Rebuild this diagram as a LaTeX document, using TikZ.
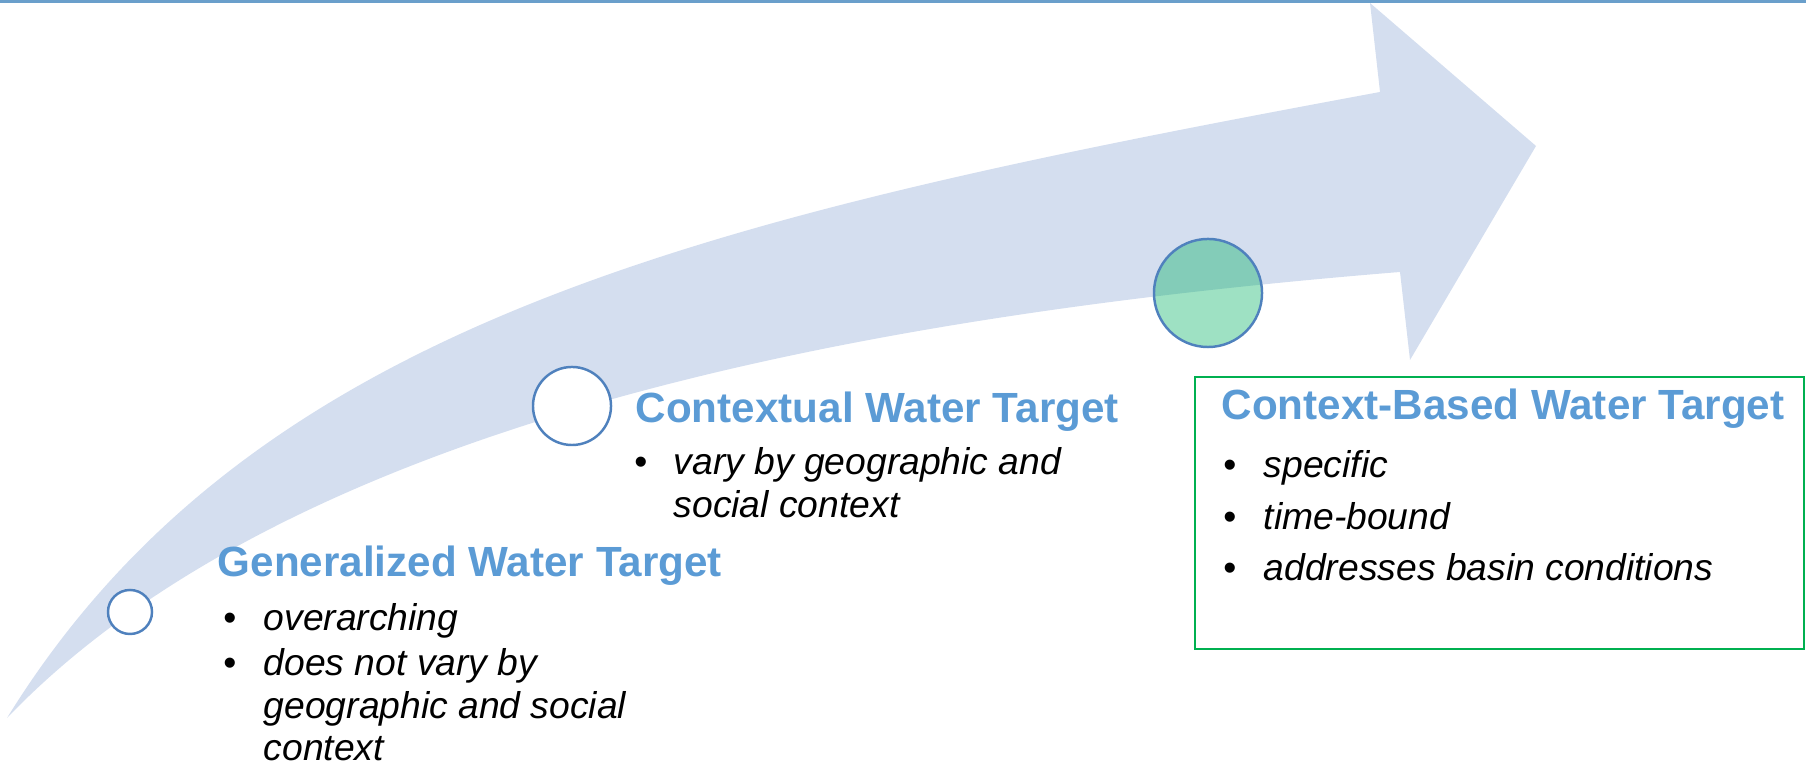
\documentclass[tikz,border=0pt]{standalone}
\usepackage{fontspec}
\setmainfont{Liberation Sans}
\usepackage{xcolor}
\usepackage{tikz}
\definecolor{WTLine}{HTML}{6A9FCB}
\definecolor{WTArrow}{HTML}{D4DEEF}
\definecolor{WTRing}{HTML}{4F81BD}
\definecolor{WTHead}{HTML}{5B9BD5}
\definecolor{WTGreen}{HTML}{00B060}
\definecolor{WTFrame}{HTML}{00B050}

\begin{document}
\begin{tikzpicture}[x=0.01cm,y=-0.01cm,
  heading/.style={anchor=base west,inner sep=0pt,text=WTHead,font=\fontsize{12}{14}\selectfont\bfseries},
  itemtext/.style={anchor=base west,inner sep=0pt,font=\fontsize{10.6}{12}\selectfont\itshape},
  itemdot/.style={anchor=base,inner sep=0pt,font=\fontsize{10.6}{12}\selectfont},
  stagering/.style={circle,draw=WTRing,line width=0.7pt,inner sep=0pt}]
\path[use as bounding box] (0,0) rectangle (1806,768);
\fill[WTLine] (0,0) rectangle (1806,3);
% curved arrow
\fill[WTArrow] (7,718) .. controls (254,318) and (716,215) .. (1380,92) -- (1370,3) -- (1536,146)
  -- (1410,360) -- (1400,272) .. controls (882,314) and (297,416) .. (7,718) -- cycle;
% stages
\node[stagering,fill=white,minimum size=0.44cm] (gendot) at (130,612) {};
\node[stagering,fill=white,minimum size=0.78cm] (ctxdot) at (572,406) {};
\node[stagering,fill=WTGreen,fill opacity=0.38,minimum size=1.08cm] (cbdot) at (1208,293) {};
\node[draw=WTFrame,line width=0.6pt,inner sep=0pt,anchor=north west,minimum width=6.09cm,minimum height=2.72cm] (cbbox) at (1194,376) {};
% generalized
\node[heading] (genhead) at (217,577) {Generalized Water Target};
\node[itemdot] (gendot1) at (230,631) {\textbullet};
\node[itemtext] (gen1) at (263,631) {overarching};
\node[itemdot] (gendot2) at (230,676) {\textbullet};
\node[itemtext] (gen2a) at (263,676) {does not vary by};
\node[itemtext] (gen2b) at (263,719) {geographic and social};
\node[itemtext] (gen2c) at (263,761) {context};
% contextual
\node[heading] (ctxhead) at (635,423) {Contextual Water Target};
\node[itemdot] (ctxdot1) at (641,475) {\textbullet};
\node[itemtext] (ctx1a) at (673,475) {vary by geographic and};
\node[itemtext] (ctx1b) at (673,518) {social context};
% context-based
\node[heading] (cbhead) at (1221,420) {Context-Based Water Target};
\node[itemdot] (cbdot1) at (1230,478) {\textbullet};
\node[itemtext] (cb1) at (1263,478) {specific};
\node[itemdot] (cbdot2) at (1230,530) {\textbullet};
\node[itemtext] (cb2) at (1263,530) {time-bound};
\node[itemdot] (cbdot3) at (1230,581) {\textbullet};
\node[itemtext] (cb3) at (1263,581) {addresses basin conditions};
\end{tikzpicture}
\end{document}
